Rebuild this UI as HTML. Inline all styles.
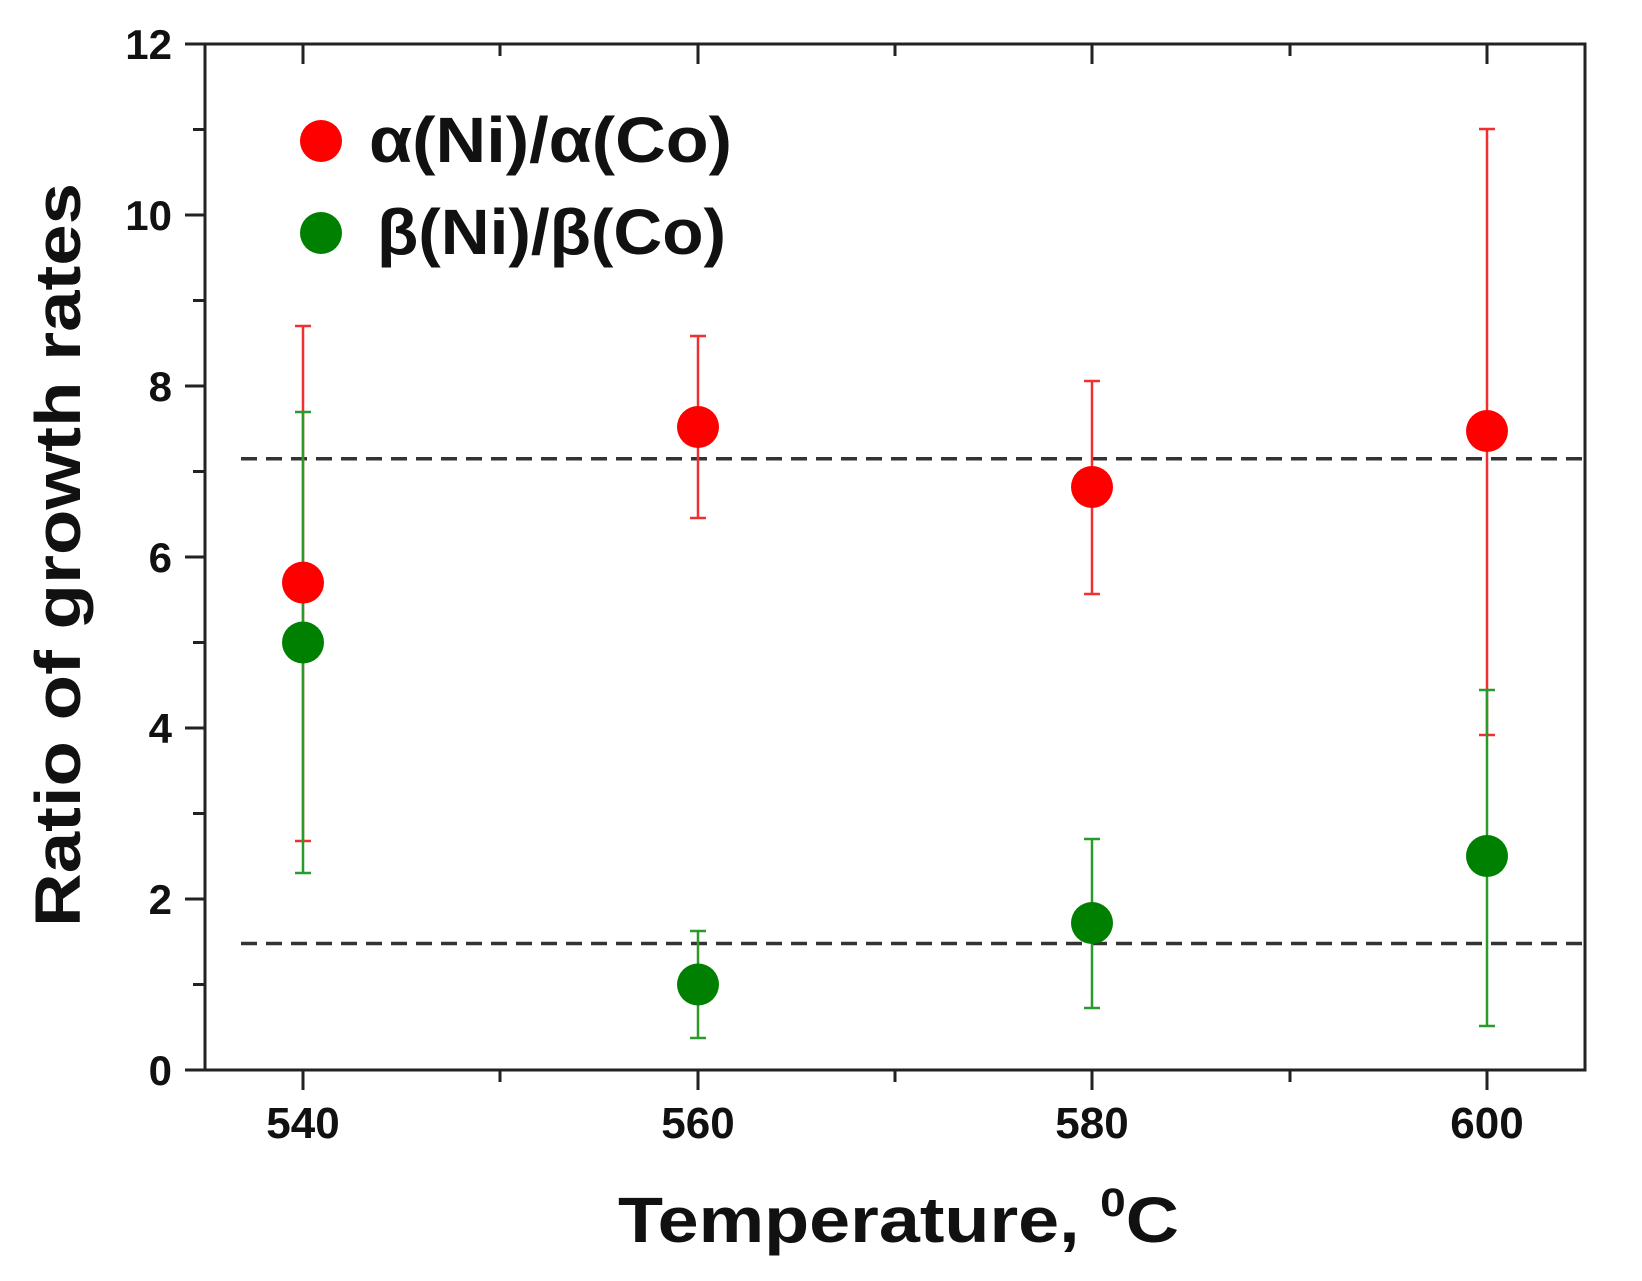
<!DOCTYPE html>
<html><head><meta charset="utf-8"><style>html,body{margin:0;padding:0;background:#fff}</style></head>
<body>
<svg width="1642" height="1276" xmlns="http://www.w3.org/2000/svg" font-family="'Liberation Sans', sans-serif" font-weight="bold">
<g stroke="#222" stroke-width="3" fill="none">
<rect x="205" y="44" width="1380" height="1026"/>
<path d="M185 1070H205M185 899H205M185 728H205M185 557H205M185 386H205M185 215H205M185 44H205"/>
<path d="M193 984.5H205M193 813.5H205M193 642.5H205M193 471.5H205M193 300.5H205M193 129.5H205"/>
<path d="M303 1070V1090M698 1070V1090M1092 1070V1090M1487 1070V1090"/>
<path d="M500 1070V1082M895 1070V1082M1290 1070V1082"/>
<path d="M303 44V64M698 44V64M1092 44V64M1487 44V64"/>
<path d="M500 44V56M895 44V56M1290 44V56"/>
</g>
<g stroke="#333" stroke-width="3.5" stroke-dasharray="16 9">
<line x1="241" y1="458.7" x2="1585" y2="458.7"/>
<line x1="241" y1="943.5" x2="1585" y2="943.5"/>
</g>
<g stroke="#f03030" stroke-width="2.5">
<path d="M303 326V841M295 326H311M295 841H311"/>
<path d="M698 336V518M690 336H706M690 518H706"/>
<path d="M1092 381V594M1084 381H1100M1084 594H1100"/>
<path d="M1487 129V735M1479 129H1495M1479 735H1495"/>
</g>
<g stroke="#2a9a2a" stroke-width="2.5">
<path d="M303 412V873M295 412H311M295 873H311"/>
<path d="M698 931V1038M690 931H706M690 1038H706"/>
<path d="M1092 839V1008M1084 839H1100M1084 1008H1100"/>
<path d="M1487 690V1026M1479 690H1495M1479 1026H1495"/>
</g>
<g fill="#ff0000">
<circle cx="303" cy="582.6" r="21"/>
<circle cx="698" cy="427" r="21"/>
<circle cx="1092" cy="487" r="21"/>
<circle cx="1487" cy="431" r="21"/>
<circle cx="321" cy="141" r="21"/>
</g>
<g fill="#008000">
<circle cx="303" cy="642.5" r="21"/>
<circle cx="698" cy="984.5" r="21"/>
<circle cx="1092" cy="923" r="21"/>
<circle cx="1487" cy="856" r="21"/>
<circle cx="321" cy="233" r="21"/>
</g>
<g fill="#111">
<text x="369" y="162" font-size="64" textLength="363" lengthAdjust="spacingAndGlyphs">α(Ni)/α(Co)</text>
<text x="377" y="254" font-size="64" textLength="349" lengthAdjust="spacingAndGlyphs">β(Ni)/β(Co)</text>
<g font-size="42" text-anchor="end">
<text x="172" y="1085">0</text><text x="172" y="914">2</text><text x="172" y="743">4</text>
<text x="172" y="572">6</text><text x="172" y="401">8</text><text x="172" y="230">10</text><text x="172" y="59">12</text>
</g>
<g font-size="44" text-anchor="middle">
<text x="303" y="1138">540</text><text x="698" y="1138">560</text><text x="1092" y="1138">580</text><text x="1487" y="1138">600</text>
</g>
<text x="618" y="1242" font-size="64" textLength="561" lengthAdjust="spacingAndGlyphs">Temperature, <tspan font-size="40" dy="-26">0</tspan><tspan dy="26">C</tspan></text>
<text transform="translate(80,555) rotate(-90)" text-anchor="middle" font-size="64" textLength="744" lengthAdjust="spacingAndGlyphs">Ratio of growth rates</text>
</g>
</svg>
</body></html>
